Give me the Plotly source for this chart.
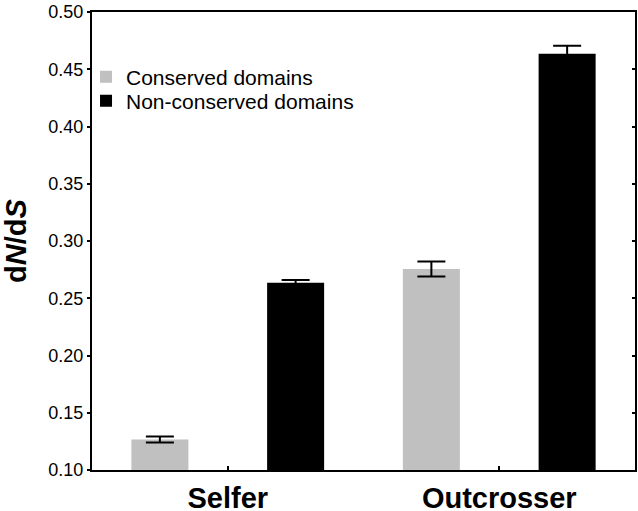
import plotly.graph_objects as go

categories = ["Selfer", "Outcrosser"]
conserved = [0.1266, 0.2755]
conserved_err = [0.0026, 0.0065]
nonconserved = [0.2635, 0.4635]
nonconserved_err = [0.0025, 0.0070]
yticks = [0.10, 0.15, 0.20, 0.25, 0.30, 0.35, 0.40, 0.45, 0.50]

font_family = "Liberation Sans, Arial, Helvetica, sans-serif"

fig = go.Figure()
fig.add_trace(go.Bar(
    x=categories, y=[v - 0.1 for v in conserved], base=0.1, name="Conserved domains",
    marker=dict(color="#c0c0c0", line=dict(width=0)), legend="legend",
    error_y=dict(type="data", array=conserved_err, color="black", thickness=2, width=14),
))
fig.add_trace(go.Bar(
    x=categories, y=[v - 0.1 for v in nonconserved], base=0.1, name="Non-conserved domains",
    marker=dict(color="black", line=dict(width=0)), legend="legend2",
    error_y=dict(type="data", array=nonconserved_err, color="black", thickness=2, width=14),
))
# invisible trace for the right-hand axis with inward ticks
fig.add_trace(go.Scatter(x=categories, y=[0.1, 0.1], yaxis="y2", mode="markers",
                         marker=dict(opacity=0), showlegend=False, hoverinfo="skip"))

legend_common = dict(xanchor="left", yanchor="middle",
                     font=dict(size=21, family=font_family), bgcolor="rgba(0,0,0,0)",
                     itemwidth=30, borderwidth=0)

fig.update_layout(
    width=638, height=511,
    margin=dict(l=92, r=3, t=12, b=41),
    paper_bgcolor="white", plot_bgcolor="white",
    barmode="group", bargap=0, bargroupgap=0.58,
    font=dict(family=font_family, color="black"),
    showlegend=True,
    legend=dict(x=-0.011, y=(470 - 77) / 458, **legend_common),
    legend2=dict(x=-0.011, y=(470 - 101) / 458, **legend_common),
    xaxis=dict(
        type="category", range=[-0.5, 1.5], automargin=False,
        showline=True, linecolor="black", linewidth=2, mirror=True,
        ticks="inside", ticklen=4, tickwidth=2, tickcolor="black",
        tickfont=dict(size=29, family=font_family, weight="bold"),
        showgrid=False, zeroline=False, ticklabelstandoff=1,
    ),
    yaxis=dict(
        range=[0.10, 0.50], tickvals=yticks, ticktext=[f"{v:.2f}" for v in yticks],
        automargin=False,
        showline=True, linecolor="black", linewidth=2,
        ticks="outside", ticklen=3, tickwidth=2, tickcolor="black",
        tickfont=dict(size=18, family=font_family),
        showgrid=False, zeroline=False,
        title=dict(text="d<i>N</i>/d<i>S</i>", font=dict(size=29, family=font_family, weight="bold"), standoff=13),
    ),
    yaxis2=dict(
        range=[0.10, 0.50], tickvals=yticks, overlaying="y", side="right",
        automargin=False,
        showline=True, linecolor="black", linewidth=2,
        ticks="inside", ticklen=3, tickwidth=2, tickcolor="black",
        showticklabels=False, showgrid=False, zeroline=False,
    ),
)

fig.write_html("out.html", config={"displayModeBar": False},
               post_script="document.body.style.margin='0';")
